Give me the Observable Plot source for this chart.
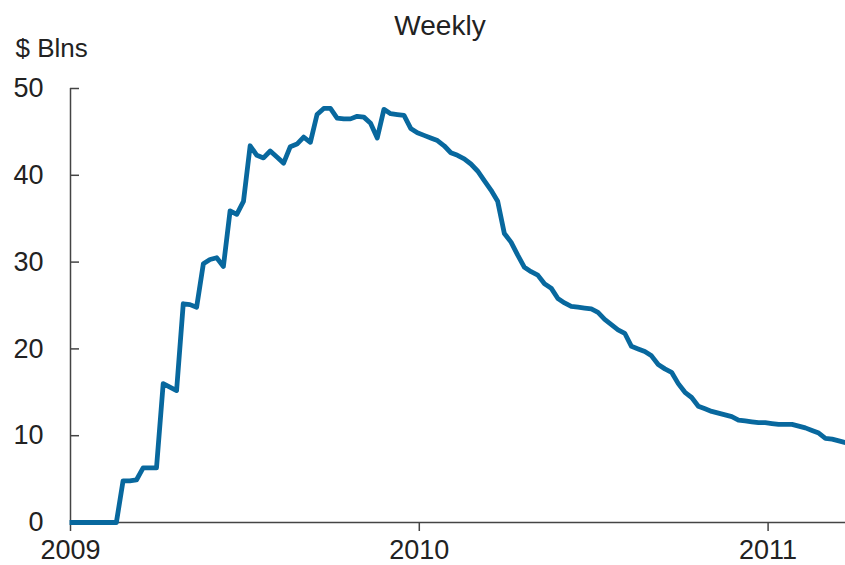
<!DOCTYPE html>
<html>
<head>
<meta charset="utf-8">
<script src="https://cdn.jsdelivr.net/npm/d3@7"></script>
<script src="https://cdn.jsdelivr.net/npm/@observablehq/plot@0.6"></script>
<style>
  html, body { margin: 0; padding: 0; background: #fff; }
  #chart svg { display: block; }
</style>
</head>
<body>
<div id="chart"></div>
<script>
// ---- data ----
const title = "Weekly";
const unitLabel = "$ Blns";
const firstWeek = "2008-12-31";           // first weekly observation
const weeklyValues = [
  0, 0, 0, 0, 0, 0, 0, 0, 4.8, 4.8, 4.9,
  6.3, 6.3, 6.3, 16.0, 15.6, 15.2, 25.2, 25.1, 24.8, 29.8,
  30.3, 30.5, 29.5, 35.9, 35.5, 37.0, 43.4, 42.3, 42.0, 42.8,
  42.1, 41.4, 43.3, 43.6, 44.4, 43.8, 47.0, 47.7, 47.7, 46.6,
  46.5, 46.5, 46.8, 46.7, 46.0, 44.3, 47.6, 47.1, 47.0, 46.9,
  45.4, 44.9, 44.6, 44.3, 44.0, 43.4, 42.6, 42.3, 41.9, 41.3,
  40.5, 39.4, 38.3, 37.0, 33.3, 32.3, 30.8, 29.4, 28.9, 28.5,
  27.5, 27.0, 25.8, 25.3, 24.9, 24.8, 24.7, 24.6, 24.2, 23.4,
  22.8, 22.2, 21.8, 20.3, 20.0, 19.7, 19.2, 18.2, 17.7, 17.3,
  16.0, 15.0, 14.4, 13.4, 13.1, 12.8, 12.6, 12.4, 12.2, 11.8,
  11.7, 11.6, 11.5, 11.5, 11.4, 11.3, 11.3, 11.3, 11.1, 10.9,
  10.6, 10.3, 9.7, 9.6, 9.4, 9.2
];
const yTicks = [0, 10, 20, 30, 40, 50];
const xTickYears = ["2009-01-01", "2010-01-01", "2011-01-01"];

// ---- build table ----
const start = new Date(firstWeek + "T00:00:00Z");
const data = weeklyValues.map((v, i) => ({date: d3.utcDay.offset(start, 7 * i), value: v}));
const xTicks = xTickYears.map(s => new Date(s + "T00:00:00Z"));

const font = "'Liberation Sans', Arial, sans-serif";
const ink = "#222";
const axisInk = "#444";

const chart = Plot.plot({
  width: 845,
  height: 565,
  marginLeft: 70,
  marginRight: 0,
  marginTop: 88,
  marginBottom: 43,
  style: {fontFamily: font, fontSize: "27px", color: ink, background: "#fff", overflow: "visible"},
  x: {
    type: "utc",
    domain: [xTicks[0], data[data.length - 1].date],
    label: null
  },
  y: {
    domain: [0, 50],
    label: null
  },
  marks: [
    Plot.axisX({ticks: xTicks, tickFormat: d3.utcFormat("%Y"), tickSize: 9, tickPadding: 8,
      stroke: axisInk, strokeWidth: 1.5, fill: ink, fontSize: 27, label: null}),
    Plot.axisY({ticks: yTicks, tickSize: -9, tickPadding: 36, stroke: axisInk, strokeWidth: 1.5,
      fill: ink, fontSize: 27, label: null}),
    Plot.ruleY([0], {stroke: axisInk, strokeWidth: 1.5}),
    Plot.ruleX([xTicks[0]], {stroke: axisInk, strokeWidth: 1.5}),
    Plot.line(data, {x: "date", y: "value", stroke: "#08689e", strokeWidth: 4.8,
      strokeLinejoin: "round", strokeLinecap: "butt"}),
    Plot.text([title], {frameAnchor: "top", dx: -18, dy: -62, fontSize: 28, fill: ink, lineAnchor: "middle"}),
    Plot.text([unitLabel], {frameAnchor: "top-left", dx: -55, dy: -40, fontSize: 26, fill: ink,
      textAnchor: "start", lineAnchor: "middle"})
  ]
});
document.getElementById("chart").appendChild(chart);
</script>
</body>
</html>
